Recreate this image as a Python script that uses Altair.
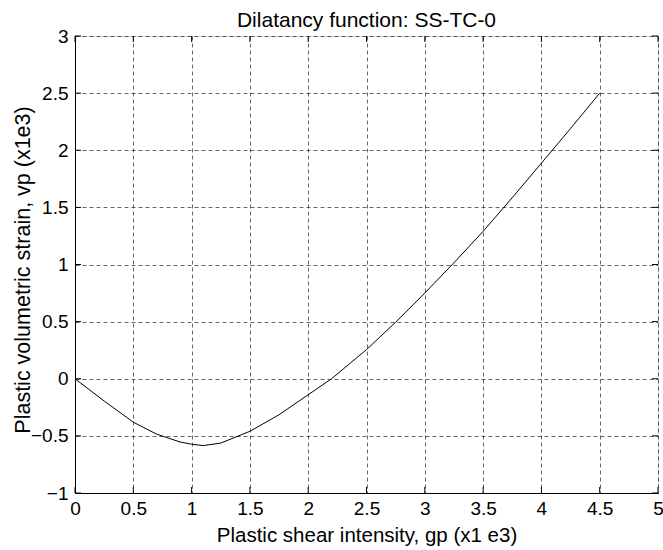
import altair as alt
import pandas as pd

# Curve data
gp = [0, 0.25, 0.5, 0.7, 0.9, 1.0, 1.1, 1.25, 1.5, 1.75, 2.0, 2.2, 2.5,
      2.75, 3.0, 3.25, 3.5, 3.75, 4.0, 4.25, 4.5]
vp = [0, -0.195, -0.38, -0.485, -0.553, -0.573, -0.585, -0.563, -0.46,
      -0.315, -0.14, 0.0, 0.255, 0.495, 0.75, 1.015, 1.29, 1.585, 1.887,
      2.19, 2.5]

x_ticks = [0, 0.5, 1, 1.5, 2, 2.5, 3, 3.5, 4, 4.5, 5]
y_ticks = [-1, -0.5, 0, 0.5, 1, 1.5, 2, 2.5, 3]

W, H = 583, 457
FONT = "Liberation Sans"

df = pd.DataFrame({"gp": gp, "vp": vp})
xt = pd.DataFrame({"t": x_ticks})
yt = pd.DataFrame({"t": y_ticks})

xscale = alt.Scale(domain=[0, 5], nice=False, zero=False)
yscale = alt.Scale(domain=[-1, 3], nice=False, zero=False)

grid_kw = dict(grid=True, gridColor="black", gridDash=[4, 3], gridWidth=0.6,
               gridOpacity=1)

x_axis = alt.Axis(
    values=x_ticks, format="~g", ticks=False, **grid_kw,
    labelPadding=6, labelFontSize=19, labelColor="black", labelFont=FONT,
    title="Plastic shear intensity, gp (x1 e3)", titleFontSize=20.5,
    titleFont=FONT, titleFontWeight="normal", titleColor="black",
    titleBaseline="alphabetic", titleY=48, titleX=W / 2, titleAnchor="middle",
    domainColor="black", domainWidth=1, labelFlush=False, labelOverlap=False,
)
y_axis = alt.Axis(
    values=y_ticks, format="~g", ticks=False, **grid_kw,
    labelPadding=7, labelFontSize=19, labelColor="black", labelFont=FONT,
    title="Plastic volumetric strain, vp (x1e3)", titleFontSize=21.5,
    titleFont=FONT, titleFontWeight="normal", titleColor="black",
    titleBaseline="alphabetic", titleX=-46, titleY=H / 2 + 5, titleAngle=270,
    titleAlign="center", domainColor="black", domainWidth=1,
    labelFlush=False, labelOverlap=False,
)

line = alt.Chart(df).mark_line(color="black", strokeWidth=1).encode(
    x=alt.X("gp:Q", scale=xscale, axis=x_axis),
    y=alt.Y("vp:Q", scale=yscale, axis=y_axis),
)

tick_bottom = alt.Chart(xt).mark_rule(color="black", strokeWidth=1).encode(
    x=alt.X("t:Q", scale=xscale), y=alt.value(H), y2=alt.value(H - 6))
tick_top = alt.Chart(xt).mark_rule(color="black", strokeWidth=1).encode(
    x=alt.X("t:Q", scale=xscale), y=alt.value(0), y2=alt.value(6))
tick_left = alt.Chart(yt).mark_rule(color="black", strokeWidth=1).encode(
    y=alt.Y("t:Q", scale=yscale), x=alt.value(0), x2=alt.value(6))
tick_right = alt.Chart(yt).mark_rule(color="black", strokeWidth=1).encode(
    y=alt.Y("t:Q", scale=yscale), x=alt.value(W), x2=alt.value(W - 6))

chart = alt.layer(line, tick_bottom, tick_top, tick_left, tick_right).properties(
    width=W, height=H,
    title=alt.TitleParams(
        "Dilatancy function: SS-TC-0", fontSize=21, font=FONT,
        fontWeight="normal", color="black", anchor="middle", frame="group",
        baseline="alphabetic", offset=8, dy=29,
    ),
    autosize=alt.AutoSizeParams(type="none"),
    padding={"left": 75, "top": 36, "right": 5, "bottom": 57},
).configure_view(
    stroke="black", strokeWidth=1,
).configure(background="white")

chart.save("out.html", embed_options={"renderer": "svg", "actions": False})
